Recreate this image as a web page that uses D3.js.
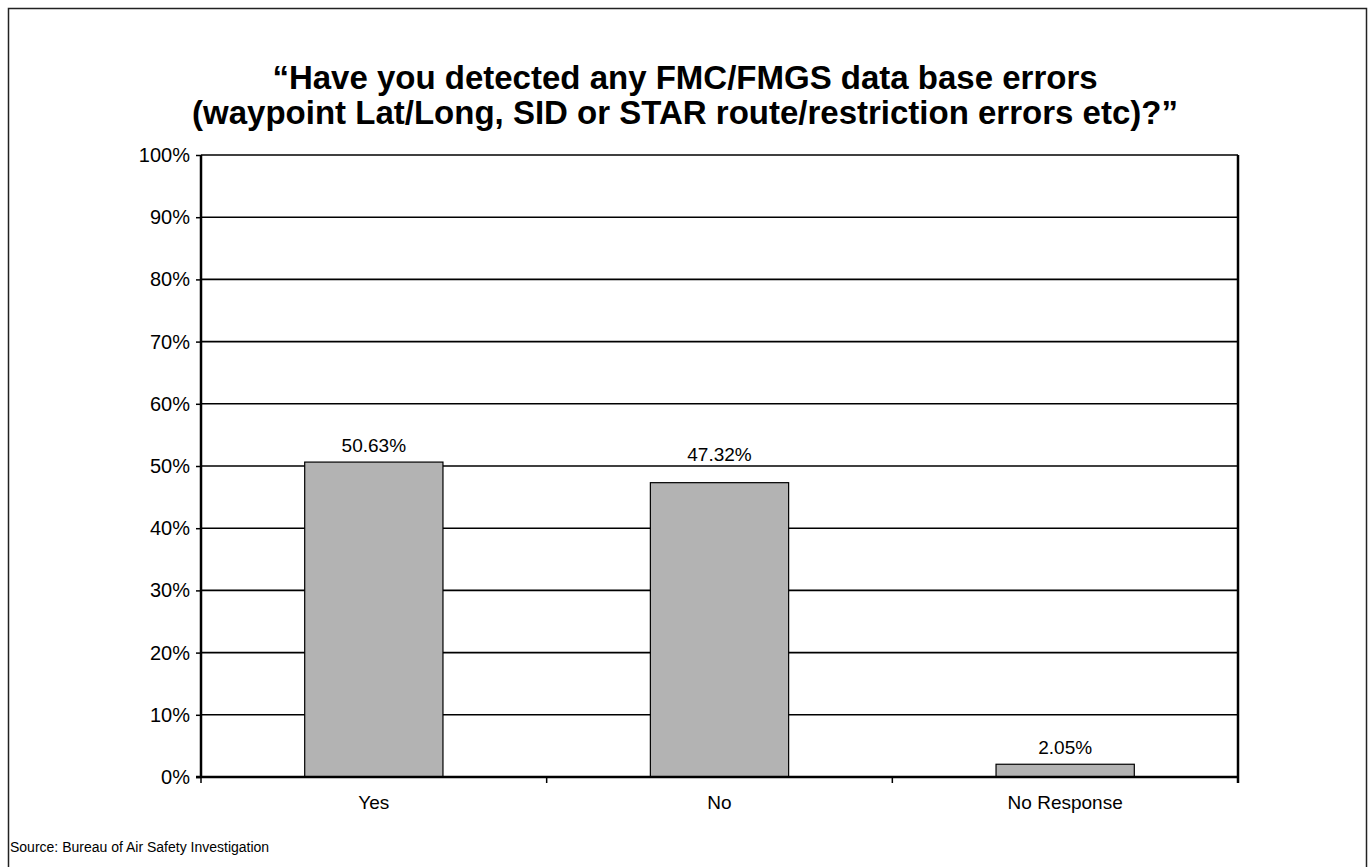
<!DOCTYPE html>
<html>
<head>
<meta charset="utf-8">
<script src="https://cdn.jsdelivr.net/npm/d3@7"></script>
<style>
  html, body { margin: 0; padding: 0; background: #fff; }
  svg { display: block; }
</style>
</head>
<body>
<svg id="chart" width="1371" height="867"></svg>
<script>
const categories = ["Yes", "No", "No Response"];
const values = [50.63, 47.32, 2.05];
const valueLabels = ["50.63%", "47.32%", "2.05%"];
const yTicks = [0, 10, 20, 30, 40, 50, 60, 70, 80, 90, 100];
const titleLines = [
  "\u201CHave you detected any FMC/FMGS data base errors",
  "(waypoint Lat/Long, SID or STAR route/restriction errors etc)?\u201D"
];
const sourceText = "Source: Bureau of Air Safety Investigation";

const svg = d3.select("#chart");
const font = "Liberation Sans, Arial, Helvetica, sans-serif";
const labelSize = 19;

// outer frame
svg.append("rect")
  .attr("x", 8.5).attr("y", 8.5)
  .attr("width", 1358).attr("height", 870)
  .attr("fill", "none").attr("stroke", "#222").attr("stroke-width", 1.5);

const plot = { left: 201, right: 1238, top: 155, bottom: 777 };

const x = d3.scaleBand()
  .domain(categories)
  .range([plot.left, plot.right])
  .paddingInner(0.6).paddingOuter(0.3);

const y = d3.scaleLinear().domain([0, 100]).range([plot.bottom, plot.top]);

// gridlines
const gridValues = yTicks.filter(t => t > 0);
svg.append("g").selectAll("line")
  .data(gridValues)
  .join("line")
  .attr("x1", plot.left).attr("x2", plot.right)
  .attr("y1", d => y(d)).attr("y2", d => y(d))
  .attr("stroke", "#000").attr("stroke-width", 1.6);

// right frame edge
svg.append("line")
  .attr("x1", plot.right).attr("x2", plot.right)
  .attr("y1", plot.top).attr("y2", plot.bottom + 6)
  .attr("stroke", "#000").attr("stroke-width", 2.5);

// bars
svg.append("g").selectAll("rect")
  .data(values)
  .join("rect")
  .attr("x", (d, i) => x(categories[i]))
  .attr("width", x.bandwidth())
  .attr("y", d => y(d))
  .attr("height", d => y(0) - y(d))
  .attr("fill", "#b3b3b3")
  .attr("stroke", "#000").attr("stroke-width", 1.2);

// value labels: sit above the bar, lifted clear of any gridline they would overlap
function labelBaseline(v) {
  let b = y(v) - 10;
  const hit = gridValues.map(y).find(g => g > b - 15 && g < b + 4);
  if (hit !== undefined) b = hit - 5;
  return b;
}
svg.append("g").selectAll("text")
  .data(values)
  .join("text")
  .attr("x", (d, i) => x(categories[i]) + x.bandwidth() / 2)
  .attr("y", d => labelBaseline(d))
  .attr("text-anchor", "middle")
  .attr("font-family", font).attr("font-size", labelSize)
  .attr("fill", "#000")
  .text((d, i) => valueLabels[i]);

// y axis
const yAxis = svg.append("g")
  .attr("transform", `translate(${plot.left},0)`)
  .call(d3.axisLeft(y).tickValues(yTicks).tickFormat(d => d + "%").tickSize(5).tickPadding(6));
yAxis.select(".domain").attr("stroke", "#000").attr("stroke-width", 2.5)
  .attr("d", `M0,${plot.top}V${plot.bottom}`);
yAxis.selectAll(".tick line").attr("stroke", "#000").attr("stroke-width", 1.5);
yAxis.selectAll(".tick text")
  .attr("font-family", font).attr("font-size", 20).attr("fill", "#000");

// x axis with ticks at category boundaries
const xAxisG = svg.append("g");
xAxisG.append("line")
  .attr("x1", plot.left - 5).attr("x2", plot.right)
  .attr("y1", plot.bottom).attr("y2", plot.bottom)
  .attr("stroke", "#000").attr("stroke-width", 2.5);
const step = x.step();
const boundaries = categories.slice(0, 2).map(c => x(c) - x.paddingOuter() * step + step);
xAxisG.selectAll("line.tick")
  .data([plot.left, ...boundaries])
  .join("line").attr("class", "tick")
  .attr("x1", d => d).attr("x2", d => d)
  .attr("y1", plot.bottom).attr("y2", plot.bottom + 6)
  .attr("stroke", "#000").attr("stroke-width", 1.5);
xAxisG.selectAll("text")
  .data(categories)
  .join("text")
  .attr("x", d => x(d) + x.bandwidth() / 2)
  .attr("y", plot.bottom + 32)
  .attr("text-anchor", "middle")
  .attr("font-family", font).attr("font-size", labelSize)
  .attr("fill", "#000")
  .text(d => d);

// title
svg.append("g").selectAll("text")
  .data(titleLines)
  .join("text")
  .attr("x", 685)
  .attr("y", (d, i) => 89 + i * 35)
  .attr("text-anchor", "middle")
  .attr("font-family", font).attr("font-size", 33).attr("font-weight", "bold")
  .attr("fill", "#000")
  .text(d => d);

// source note
svg.append("text")
  .attr("x", 10).attr("y", 852)
  .attr("font-family", font).attr("font-size", 14)
  .attr("fill", "#000")
  .text(sourceText);
</script>
</body>
</html>
